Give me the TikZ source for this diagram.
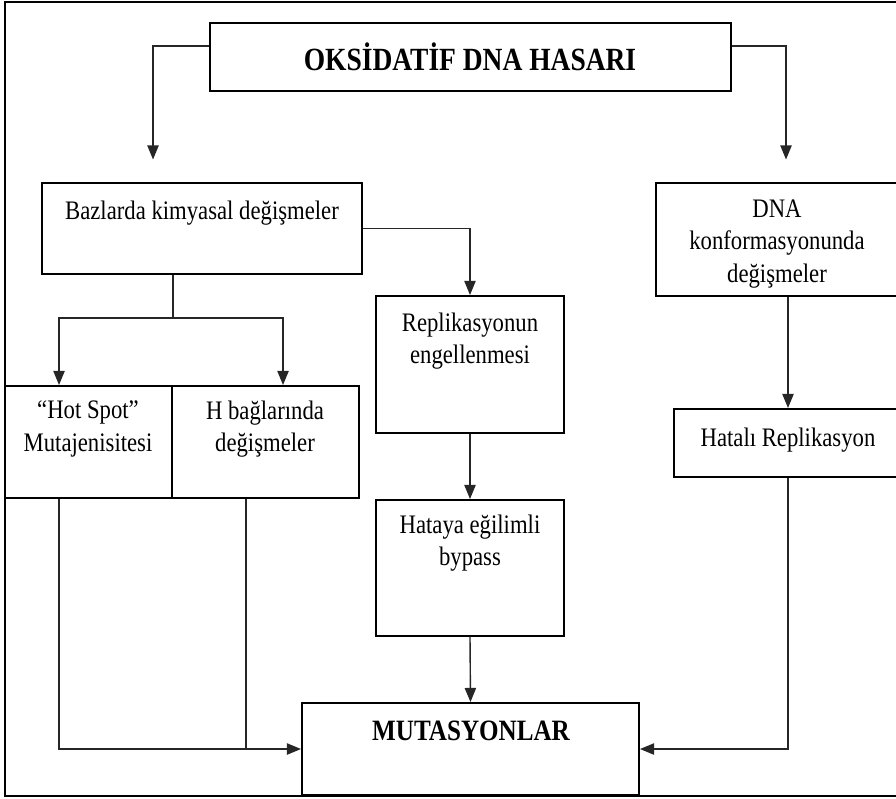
\documentclass[tikz,border=0pt]{standalone}
\usepackage{fontspec}
\setmainfont[FakeStretch=0.85]{Liberation Serif}
\usetikzlibrary{arrows.meta,calc,fit}
\tikzset{
  box/.style={draw, line width=1.4pt, inner sep=0pt},
  txt/.style={align=center, inner sep=0pt, font=\fontsize{19}{23}\selectfont},
  titletxt/.style={txt, font=\fontsize{23}{27}\selectfont\bfseries},
  conn/.style={line width=1pt, black!85},
  arr/.style={conn, -{Triangle[width=8pt,length=10pt]}},
}
\begin{document}
\begin{tikzpicture}[x=0.025cm, y=-0.025cm]
    \useasboundingbox (0,0) rectangle (896,798);
    \clip (0,0) rectangle (896,798);
    % outer frame
    \draw[line width=2pt] (5,2) rectangle (910,796);

    % boxes
    \node[box, fit={(210,23) (731,91)}] (ox) {};
    \node[box, fit={(42,183) (362,274)}] (baz) {};
    \node[box, fit={(656,183) (898,296)}] (dna) {};
    \node[box, fit={(376,296) (564,433)}] (rep) {};
    \node[box, fit={(5,386) (172,498)}] (hs) {};
    \node[box, fit={(172,386) (359,498)}] (hb) {};
    \node[box, fit={(674,409) (902,477)}] (hat) {};
    \node[box, fit={(376,500) (564,636)}] (hyb) {};
    \node[box, fit={(302,703) (639,795)}] (mut) {};

    % texts
    \node[titletxt] (oxt) at (470,57) {OKSİDATİF DNA HASARI};
    \node[txt] (bazt) at (202,213) {Bazlarda kimyasal değişmeler};
    \node[txt] (dnat) at (777,244) {DNA\\konformasyonunda\\değişmeler};
    \node[txt] (rept) at (470,341) {Replikasyonun\\engellenmesi};
    \node[txt] (hst) at (88,429) {“Hot Spot”\\Mutajenisitesi};
    \node[txt] (hbt) at (265,429) {H bağlarında\\değişmeler};
    \node[txt] (hatt) at (788,440) {Hatalı Replikasyon};
    \node[txt] (hybt) at (470,543) {Hataya eğilimli\\bypass};
    \node[titletxt, font=\fontsize{21}{25}\selectfont\bfseries] (mutt) at (471,731) {MUTASYONLAR};

    % connectors
    \coordinate (split) at (173,318);
    \coordinate (hsdrop) at ($(hs.south west)+(55,0)$);
    \coordinate (hbdrop) at ($(hb.south west)+(75,0)$);
    \draw[arr, shorten >=16pt] ($(ox.north west)+(0,24)$) -| ($(baz.north west)+(112,0)$);
    \draw[arr, shorten >=16pt] ($(ox.north east)+(0,24)$) -| ($(dna.north west)+(131,0)$);
    \draw[arr] (baz.east) -| (rep.north);
    \draw[conn] (baz.south -| split) -- (split);
    \draw[arr] (split) -| ($(hs.north west)+(55,0)$);
    \draw[arr] (split) -| ($(hb.north west)+(112,0)$);
    \draw[arr] (rep.south) -- (hyb.north);
    \draw[arr] (hyb.south) -- (mut.north);
    \draw[arr] (dna.south -| hat.north) -- (hat.north);
    \draw[arr] (hat.south) |- (mut.east);
    \draw[arr] (hsdrop) |- (mut.west);
    \draw[conn] (hbdrop) -- (hbdrop |- mut.west);
\end{tikzpicture}
\end{document}
